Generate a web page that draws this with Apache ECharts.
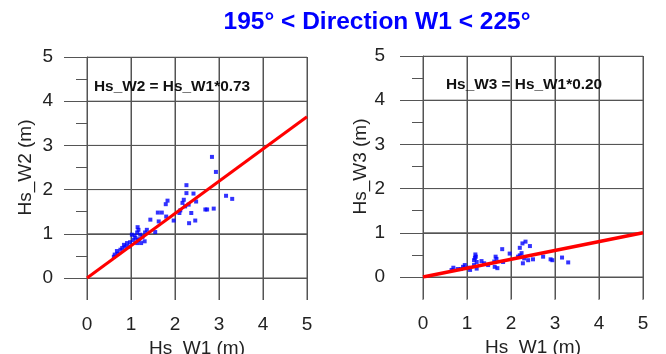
<!DOCTYPE html>
<html><head><meta charset="utf-8">
<script src="https://cdn.jsdelivr.net/npm/echarts@6/dist/echarts.min.js"></script>
<style>html,body{margin:0;padding:0;background:#fff}#c{width:666px;height:354px}</style>
</head><body><div id="c"></div>
<script>
// ---- data ----
const titleText = '195° < Direction W1 < 225°';
const eqW2 = 'Hs_W2 = Hs_W1*0.73';
const eqW3 = 'Hs_W3 = Hs_W1*0.20';
const axisTicks = [0, 1, 2, 3, 4, 5];
// left panel: Hs_W1 vs Hs_W2
const w1a = [2.26,2.26,2.42,3.16,3.30,1.83,1.79,2.20,2.17,2.31,2.23,2.48,2.12,2.10,2.37,2.69,2.73,2.88,1.61,1.70,1.44,1.80,1.63,1.97,2.32,2.46,1.55,1.15,1.17,1.14,1.36,1.32,1.02,1.08,1.21,1.26,1.31,1.23,1.14,1.16,1.06,0.91,0.87,0.80,0.76,0.68,0.63,0.70,0.61,0.95,0.84,2.84,2.93,1.10,1.19,0.98];
const w2  = [2.10,1.92,1.91,1.86,1.79,1.75,1.67,1.77,1.70,1.66,1.62,1.73,1.53,1.47,1.47,1.55,1.55,1.57,1.48,1.48,1.32,1.39,1.28,1.30,1.24,1.30,1.04,1.15,1.09,1.03,1.09,1.03,0.98,0.96,0.98,0.93,0.83,0.79,0.79,0.86,0.86,0.79,0.71,0.68,0.64,0.61,0.53,0.55,0.48,0.71,0.75,2.74,2.40,0.91,0.88,0.81];
const fitW2 = [[0, 0], [5, 3.65]];
// right panel: Hs_W1 vs Hs_W3
const w1b = [2.33,2.26,2.20,2.43,1.80,1.97,2.16,2.30,2.39,2.50,2.27,2.20,2.73,2.90,2.94,3.16,3.30,1.19,1.18,1.16,1.22,1.33,1.39,1.16,1.22,1.65,1.67,1.62,1.63,1.69,1.48,1.82,0.95,0.91,0.86,1.03,0.79,0.69,0.65,1.07,2.24,1.20];
const w3  = [0.80,0.76,0.66,0.70,0.63,0.53,0.46,0.42,0.38,0.40,0.31,0.49,0.46,0.40,0.38,0.44,0.33,0.51,0.43,0.38,0.34,0.36,0.31,0.27,0.19,0.46,0.41,0.35,0.23,0.20,0.27,0.34,0.27,0.23,0.18,0.21,0.18,0.21,0.16,0.16,0.54,0.46];
const fitW3 = [[0, 0], [5, 1.00]];

const pairs = (xs, ys) => xs.map((x, i) => [x, ys[i]]);
const FONT = '"Liberation Sans", Arial, sans-serif';
const GRIDC = '#555';

function xAx(idx) {
  return {
    gridIndex: idx, type: 'value', min: 0, max: 5, interval: 1,
    name: 'Hs_W1 (m)', nameLocation: 'middle', nameGap: 48,
    nameTextStyle: { fontSize: 19, color: '#222', fontFamily: FONT },
    axisLine: { show: true, lineStyle: { color: GRIDC, width: 1 } },
    axisTick: { show: true, length: 22, lineStyle: { color: GRIDC } },
    axisLabel: { margin: 37, fontSize: 19, color: '#222', fontFamily: FONT },
    splitLine: { show: true, lineStyle: { color: GRIDC, width: 1 } }
  };
}
function yAx(idx, name, margin) {
  return {
    gridIndex: idx, type: 'value', min: 0, max: 5, interval: 1,
    name: name, nameLocation: 'middle', nameGap: 52, nameRotate: 90,
    nameTextStyle: { fontSize: 19, color: '#222', fontFamily: FONT },
    axisLine: { show: true, lineStyle: { color: GRIDC, width: 1 } },
    axisTick: { show: true, length: 23, lineStyle: { color: GRIDC } },
    minorTick: { show: true, splitNumber: 2, length: 11, lineStyle: { color: GRIDC } },
    axisLabel: { margin: margin, fontSize: 19, color: '#222', fontFamily: FONT },
    splitLine: { show: true, lineStyle: { color: GRIDC, width: 1 } }
  };
}
// hidden strip axes under each plot, used to place the downward x ticks
function stripX(idx) {
  return { gridIndex: idx, type: 'value', min: 0, max: 5, interval: 1, show: false };
}
function stripY(idx) {
  return { gridIndex: idx, type: 'value', min: 0, max: 1, show: false };
}
// grid lines as line series, placed through the axes' own scales
function gridSeries(idx, stripIdx) {
  const out = [];
  const lo = axisTicks[0], hi = axisTicks[axisTicks.length - 1];
  axisTicks.forEach(v => {
    [[[v, lo], [v, hi]], [[lo, v], [hi, v]]].forEach(seg => {
      out.push({
        type: 'line', xAxisIndex: idx, yAxisIndex: idx, data: seg, symbol: 'none',
        silent: true, z: 1, lineStyle: { color: GRIDC, width: 1 }
      });
    });
    // tick below the x axis, drawn in the strip grid under the plot
    out.push({
      type: 'line', xAxisIndex: stripIdx, yAxisIndex: stripIdx, data: [[v, 0], [v, 1]],
      symbol: 'none', silent: true, z: 1, lineStyle: { color: GRIDC, width: 1 }
    });
  });
  return out;
}

const chart = echarts.init(document.getElementById('c'), null, { renderer: 'canvas' });
chart.setOption({
  animation: false,
  backgroundColor: '#fff',
  title: [
    { text: titleText, left: 377, top: 10, padding: 0, textAlign: 'center',
      textStyle: { fontSize: 24.5, fontWeight: 'bold', color: '#0000ff', fontFamily: FONT } },
    { text: eqW2, left: 94, top: 79, padding: 0,
      textStyle: { fontSize: 15.4, fontWeight: 'bold', color: '#111', fontFamily: FONT } },
    { text: eqW3, left: 446, top: 77, padding: 0,
      textStyle: { fontSize: 15.4, fontWeight: 'bold', color: '#111', fontFamily: FONT } }
  ],
  grid: [
    { left: 87, right: 359, top: 57, bottom: 76, show: false, outerBoundsMode: 'none', containLabel: false },
    { left: 423, right: 23, top: 56, bottom: 77, show: false, outerBoundsMode: 'none', containLabel: false },
    { left: 87, right: 359, top: 278, bottom: 54, show: false, outerBoundsMode: 'none', containLabel: false },
    { left: 423, right: 23, top: 277, bottom: 54, show: false, outerBoundsMode: 'none', containLabel: false }
  ],
  xAxis: [xAx(0), xAx(1), stripX(2), stripX(3)],
  yAxis: [yAx(0, 'Hs_W2 (m)', 34), yAx(1, 'Hs_W3 (m)', 38), stripY(2), stripY(3)],
  series: [
    ...gridSeries(0, 2),
    ...gridSeries(1, 3),
    { type: 'scatter', xAxisIndex: 0, yAxisIndex: 0, symbol: 'rect', symbolSize: 4, z: 3,
      itemStyle: { color: '#0000ff' }, data: pairs(w1a, w2) },
    { type: 'line', xAxisIndex: 0, yAxisIndex: 0, symbol: 'none', data: fitW2, z: 4,
      lineStyle: { color: '#ff0000', width: 3 } },
    { type: 'scatter', xAxisIndex: 1, yAxisIndex: 1, symbol: 'rect', symbolSize: 4, z: 3,
      itemStyle: { color: '#0000ff' }, data: pairs(w1b, w3) },
    { type: 'line', xAxisIndex: 1, yAxisIndex: 1, symbol: 'none', data: fitW3, z: 4,
      lineStyle: { color: '#ff0000', width: 3.5 } }
  ]
});
</script></body></html>
